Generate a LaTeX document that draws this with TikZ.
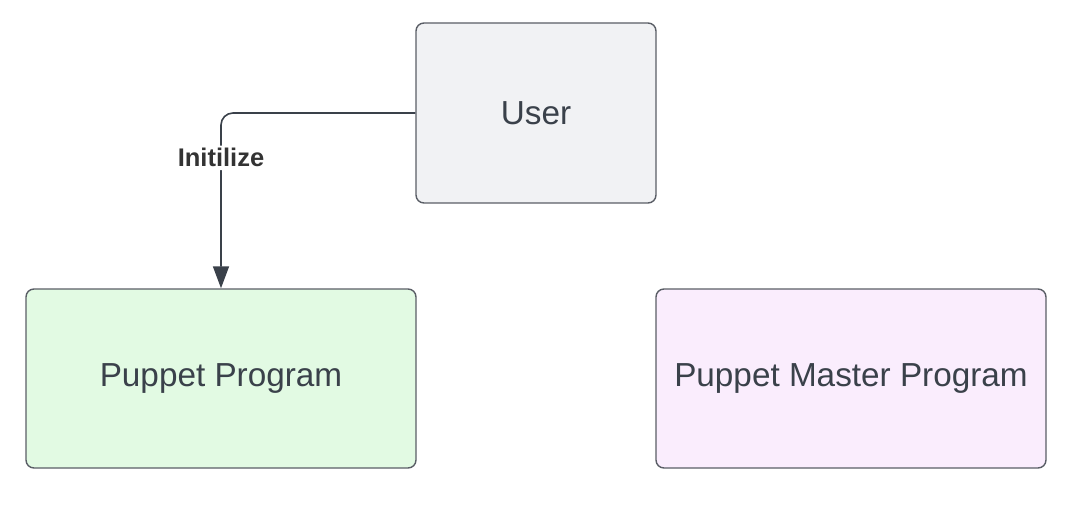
\documentclass[tikz,border=0pt]{standalone}
\usepackage{fontspec}
\setmainfont{Liberation Sans}
\usetikzlibrary{arrows.meta,positioning}
\definecolor{edge}{HTML}{5A5E66}
\definecolor{ink}{HTML}{3A414A}
\definecolor{userfill}{HTML}{F1F2F4}
\definecolor{puppetfill}{HTML}{E2FAE3}
\definecolor{masterfill}{HTML}{FAEDFD}

\begin{document}
\begin{tikzpicture}[
x=1pt, y=-1pt,
box/.style={
	draw=edge, line width=1.4pt, rectangle,
	rounded corners=8pt, minimum width=390pt, minimum height=179pt,
	inner sep=0pt, text=ink, font=\fontsize{33.3}{36}\selectfont
},
link/.style={draw=ink, line width=1.6pt, rounded corners=12pt,
	-{Triangle[length=22pt,width=16pt]}}
]
\useasboundingbox (0,0) rectangle (1079,513);
\node[box, fill=userfill, minimum width=240pt, minimum height=180pt] (user) at (536,113) {User};
\node[box, fill=puppetfill] (puppet) at (221,378.5) {Puppet Program};
\node[box, fill=masterfill] (master) at (851,378.5) {Puppet Master Program};
\draw[link] (user.west) -| (puppet.north)
	node[pos=0.628, fill=white, inner sep=3pt, text=black!80,
	font=\fontsize{25.5}{27}\selectfont\bfseries] (init) {Initilize};
\end{tikzpicture}
\end{document}
